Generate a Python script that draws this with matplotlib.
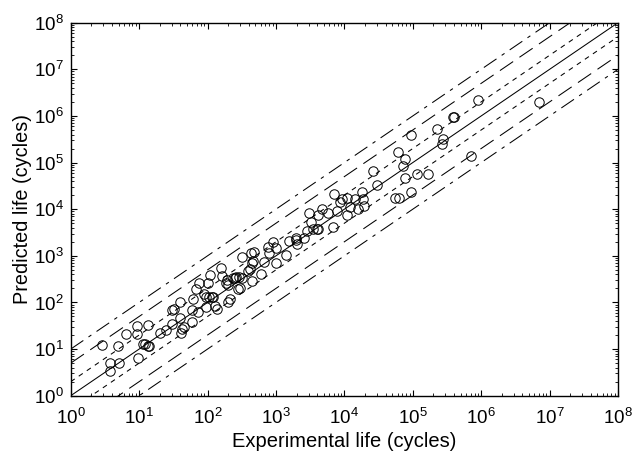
import matplotlib
matplotlib.use("Agg")
import matplotlib.pyplot as plt
import numpy as np
from matplotlib.ticker import FixedLocator, NullFormatter, LogFormatterSciNotation

plt.rcParams['font.family'] = ['Liberation Sans', 'DejaVu Sans']
plt.rcParams['mathtext.fontset'] = 'custom'
plt.rcParams['mathtext.rm'] = 'Liberation Sans'
plt.rcParams['mathtext.it'] = 'Liberation Sans'
plt.rcParams['lines.scale_dashes'] = False

exp_life = [2.9, 3.8, 5.0, 3.8, 4.9, 6.4, 9.4, 9.4, 9.7, 13.4,
            11.4, 12.2, 13.4, 14.1, 20.2, 24.5, 30, 30, 32.7, 39.6,
            41, 42.8, 45.3, 39.6, 58.7, 58.7, 62, 72, 67, 76,
            94, 90, 95, 103, 109, 106, 115, 122, 136, 129,
            156, 165, 191, 201, 213, 186, 201, 236, 261, 289,
            319, 250, 300, 282, 316, 418, 391, 452, 443, 468,
            433, 479, 606, 670, 774, 785, 898, 993, 993, 1405,
            1571, 1969, 2015, 1969, 2576, 3080, 2880, 3260, 3520, 3950,
            4170, 4170, 4670, 5720, 6900, 7740, 8650, 10800, 7140, 9160,
            10800, 12100, 14300, 16000, 18300, 19000, 19600, 26000, 29800, 55100,
            63000, 61500, 77100, 72900, 77100, 94400, 94400, 114000, 166000, 224000,
            280000, 271000, 393000, 406000, 705000, 891000, 6.95e6]
pred_life = [12.2, 5.1, 5.0, 3.4, 11.8, 20.8, 31, 21, 6.5, 33,
             12.9, 12.7, 11.8, 11.8, 22.5, 25.7, 34, 69, 71, 47,
             22.5, 27, 30, 101, 38.7, 69, 117, 63.5, 192, 258,
             79, 150, 133, 258, 389, 133, 129, 129, 71, 84,
             558, 370, 304, 104, 119, 258, 238, 336, 347, 347,
             336, 330, 202, 192, 933, 516, 474, 289, 693, 789,
             1137, 1195, 409, 751, 1530, 1171, 2018, 1456, 715, 1045,
             2120, 2193, 1799, 2388, 2460, 8200, 3475, 5260, 3720, 3720,
             3780, 7550, 10000, 8200, 4240, 9190, 14550, 7550, 21000, 16400,
             17700, 11370, 16400, 10000, 23900, 16400, 11950, 66400, 33200, 17700,
             17700, 167000, 118000, 84900, 46300, 393000, 23900, 56400, 56400, 528000,
             323000, 252000, 971000, 942000, 141000, 2.21e6, 2.04e6]

band_factors = [1, 2, 0.5, 5, 0.2, 10, 0.1]
band_styles = ['-', (0, (3.5, 3.5)), (0, (3.5, 3.5)), (0, (11.5, 5.5)), (0, (11.5, 5.5)),
               (0, (11, 4.5, 2.5, 4.5)), (0, (11, 4.5, 2.5, 4.5))]
x_range = [1, 1e8]
decades = [10.0 ** k for k in range(0, 9)]

fig = plt.figure(figsize=(6.33, 4.55), dpi=100)
ax = fig.add_axes([0.1117, 0.1303, 0.8646, 0.8198])

xr = np.array(x_range)
for f, ls in zip(band_factors, band_styles):
    ax.plot(xr, xr * f, color='black', linestyle=ls, linewidth=0.75)

ax.plot(exp_life, pred_life, linestyle='none', marker='o', markersize=6.8,
        markerfacecolor='none', markeredgecolor='black', markeredgewidth=0.7)

ax.set_xscale('log')
ax.set_yscale('log')
ax.set_xlim(1, 1e8)
ax.set_ylim(1, 1e8)

minor = [m * d for d in decades[:-1] for m in range(2, 10)]
for axis in (ax.xaxis, ax.yaxis):
    axis.set_major_locator(FixedLocator(decades))
    axis.set_major_formatter(LogFormatterSciNotation())
    axis.set_minor_locator(FixedLocator(minor))
    axis.set_minor_formatter(NullFormatter())

ax.tick_params(which='both', direction='in', top=True, right=True, labelsize=13.5)
ax.tick_params(which='major', length=4, width=0.8)
ax.tick_params(which='minor', length=2.2, width=0.6)
ax.tick_params(axis='x', pad=9)
ax.tick_params(axis='y', pad=5)
for s in ax.spines.values():
    s.set_linewidth(1.0)

ax.set_xlabel('Experimental life (cycles)', fontsize=14.5, labelpad=3)
ax.set_ylabel('Predicted life (cycles)', fontsize=14.3, labelpad=1)

fig.savefig('out.png', dpi=100)
